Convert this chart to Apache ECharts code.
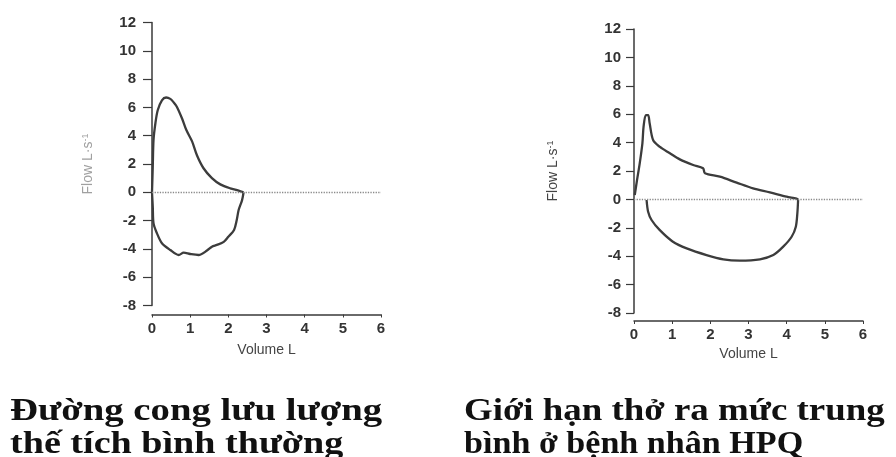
<!DOCTYPE html>
<html>
<head>
<meta charset="utf-8">
<script src="https://cdn.jsdelivr.net/npm/echarts@6/dist/echarts.min.js"></script>
<style>
  html, body { margin: 0; padding: 0; background: #fff; }
  #chart { width: 896px; height: 457px; }
</style>
</head>
<body>
<div id="chart"></div>
<script>
// Flow-volume loops: [volume L, flow L/s]
// Normal subject: expiration (upper) and inspiration (lower)
var normalExp = [
  [0.00, 0.0], [0.02, 1.8], [0.04, 3.7], [0.09, 4.9], [0.15, 5.8], [0.26, 6.5],
  [0.37, 6.7], [0.48, 6.6], [0.57, 6.35], [0.65, 6.05], [0.79, 5.2], [0.90, 4.4],
  [1.05, 3.6], [1.18, 2.6], [1.35, 1.7], [1.57, 1.0], [1.79, 0.56], [2.05, 0.28],
  [2.27, 0.12], [2.40, 0.0]
];
var normalInsp = [
  [2.40, 0.0], [2.36, -0.55], [2.27, -1.25], [2.22, -1.96], [2.15, -2.66],
  [2.00, -3.14], [1.88, -3.5], [1.70, -3.72], [1.57, -3.84], [1.44, -4.12],
  [1.22, -4.43], [1.00, -4.36], [0.83, -4.27], [0.70, -4.43], [0.48, -4.08],
  [0.26, -3.6], [0.13, -2.9], [0.04, -2.2], [0.02, -1.0], [0.00, 0.0]
];
// Moderate obstruction (HPQ): expiration and inspiration
var hpqExp = [
  [0.02, 0.31], [0.08, 1.37], [0.15, 2.54], [0.22, 3.95], [0.25, 5.1], [0.31, 5.94],
  [0.37, 5.94], [0.41, 5.36], [0.50, 4.18], [0.67, 3.71], [0.94, 3.25], [1.20, 2.82],
  [1.55, 2.42], [1.81, 2.19], [1.86, 1.84], [2.25, 1.6], [2.69, 1.18], [3.12, 0.78],
  [3.56, 0.5], [4.00, 0.19], [4.26, 0.05], [4.30, -0.02]
];
var hpqInsp = [
  [4.30, -0.02], [4.28, -0.98], [4.24, -1.92], [4.13, -2.63], [3.91, -3.33],
  [3.65, -3.92], [3.30, -4.22], [2.77, -4.31], [2.34, -4.22], [1.90, -3.92],
  [1.38, -3.45], [1.02, -2.98], [0.67, -2.15], [0.46, -1.45], [0.37, -0.87], [0.33, -0.04]
];
var volumeTicks = { min: 0, max: 6, step: 1 };
var flowTicks = { min: -8, max: 12, step: 2 };
var captionLeft = ['Đường cong lưu lượng', 'thế tích bình thường'];
var captionRight = ['Giới hạn thở ra mức trung', 'bình ở bệnh nhân HPQ'];

var chart = echarts.init(document.getElementById('chart'), null, { renderer: 'canvas' });

var axisColor = '#3a3a3a';
var labelFont = { color: '#333', fontSize: 15, fontWeight: 'bold', fontFamily: 'Liberation Sans, Arial, sans-serif' };

function makeX(gridIndex, offset, nameGap, margin) {
  return {
    type: 'value', gridIndex: gridIndex,
    min: volumeTicks.min, max: volumeTicks.max, interval: volumeTicks.step,
    offset: offset,
    name: 'Volume L', nameLocation: 'middle', nameGap: nameGap,
    nameTextStyle: { color: '#444', fontSize: 14, fontFamily: 'Liberation Sans, Arial, sans-serif' },
    axisLine: { show: true, onZero: false, lineStyle: { color: axisColor, width: 1.5 } },
    axisTick: { show: true, length: 3, lineStyle: { color: axisColor } },
    axisLabel: Object.assign({ margin: margin }, labelFont),
    splitLine: { show: false }
  };
}
function makeY(gridIndex, nameGap, nameColor, tickLen, margin) {
  return {
    type: 'value', gridIndex: gridIndex,
    min: flowTicks.min, max: flowTicks.max, interval: flowTicks.step,
    name: 'Flow L·s{sup|-1}', nameLocation: 'middle', nameGap: nameGap, nameRotate: 90,
    nameTextStyle: {
      color: nameColor, fontSize: 14, fontFamily: 'Liberation Sans, Arial, sans-serif',
      rich: { sup: { fontSize: 9, color: nameColor, verticalAlign: 'top', padding: [0, 0, 6, 0] } }
    },
    axisLine: { show: true, onZero: false, lineStyle: { color: axisColor, width: 1.5 } },
    axisTick: { show: true, length: tickLen, lineStyle: { color: axisColor, width: 1.2 } },
    axisLabel: Object.assign({ margin: margin }, labelFont),
    splitLine: { show: false }
  };
}
function loop(data, xi, yi, withZero) {
  var s = {
    type: 'line', xAxisIndex: xi, yAxisIndex: yi, data: data,
    showSymbol: false, smooth: 0.3, silent: true,
    lineStyle: { color: '#3c3c3c', width: 2.3 }
  };
  if (withZero) {
    s.markLine = {
      silent: true, symbol: 'none', label: { show: false },
      lineStyle: { color: '#8a8a8a', type: 'dotted', width: 1.3 },
      data: [{ yAxis: 0 }]
    };
  }
  return s;
}
// Caption lines, each stretched horizontally to its printed width
function captionText(lines, x, stretch) {
  return lines.map(function (t, i) {
    return {
      type: 'text', x: x, y: 396 + i * 33, scaleX: stretch[i], scaleY: 1, originX: 0, originY: 0,
      style: {
        text: t, fill: '#111', textVerticalAlign: 'top',
        font: 'bold 31px "Liberation Serif", "Times New Roman", serif'
      }
    };
  });
}

chart.setOption({
  animation: false,
  backgroundColor: '#fff',
  grid: [
    { left: 152, top: 22.5, width: 229, height: 283 },
    { left: 634, top: 29, width: 229, height: 284 }
  ],
  xAxis: [makeX(0, 9, 29, 7), makeX(1, 8, 17, 6)],
  yAxis: [makeY(0, 56, '#a0a0a0', 9, 16), makeY(1, 73, '#444', 8, 13)],
  series: [
    loop(normalExp, 0, 0, true),
    loop(normalInsp, 0, 0, false),
    loop(hpqExp, 1, 1, true),
    loop(hpqInsp, 1, 1, false)
  ],
  graphic: captionText(captionLeft, 10, [1.25, 1.23]).concat(captionText(captionRight, 464, [1.19, 1.1]))
});
</script>
</body>
</html>
